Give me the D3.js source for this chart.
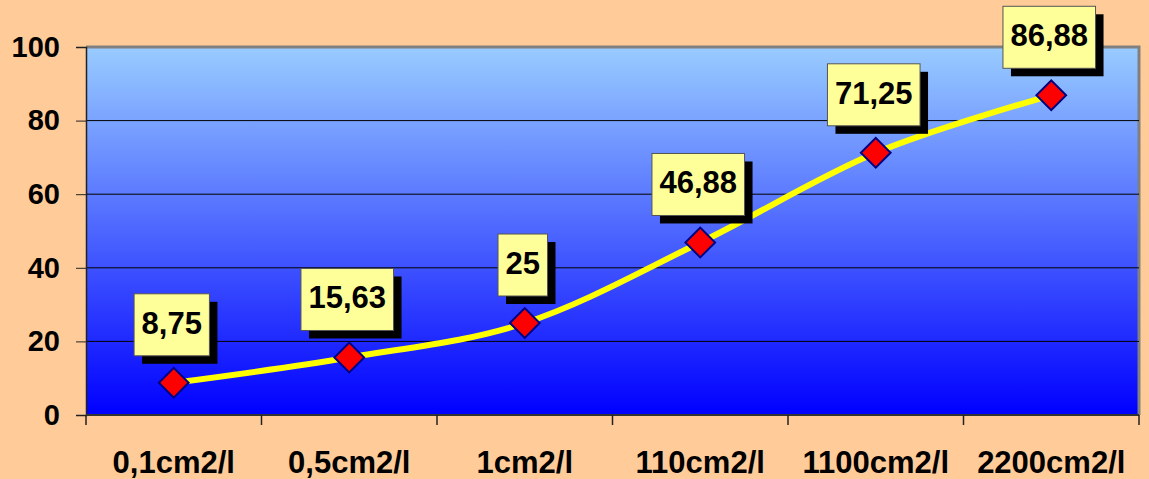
<!DOCTYPE html>
<html>
<head>
<meta charset="utf-8">
<script src="https://cdn.jsdelivr.net/npm/d3@7"></script>
<style>
  html, body { margin: 0; padding: 0; background: #FFCC99; }
  svg { display: block; }
  text { font-family: "Liberation Sans", Arial, sans-serif; font-weight: bold; fill: #000; }
</style>
</head>
<body>
<svg id="chart" width="1149" height="479"></svg>
<script>
// Categories and measured values
const categories = ["0,1cm2/l", "0,5cm2/l", "1cm2/l", "110cm2/l", "1100cm2/l", "2200cm2/l"];
const values = [8.75, 15.63, 25, 46.88, 71.25, 86.88];
const valueLabels = ["8,75", "15,63", "25", "46,88", "71,25", "86,88"];
const yTicks = [0, 20, 40, 60, 80, 100];

const W = 1149, H = 479;
const margin = { left: 86, right: 10, top: 47, bottom: 64 };
const plotW = W - margin.left - margin.right;
const plotH = H - margin.top - margin.bottom;

const svg = d3.select("#chart");

const x = d3.scaleBand().domain(categories).range([0, plotW]).paddingInner(0).paddingOuter(0);
const y = d3.scaleLinear().domain([0, 100]).range([plotH, 0]);

const defs = svg.append("defs");
const grad = defs.append("linearGradient")
  .attr("id", "plotFill").attr("x1", 0).attr("y1", 0).attr("x2", 0).attr("y2", 1);
grad.append("stop").attr("offset", "0%").attr("stop-color", "#99CCFF");
grad.append("stop").attr("offset", "100%").attr("stop-color", "#0000FF");

const g = svg.append("g").attr("transform", `translate(${margin.left},${margin.top})`);

// Plot area with gradient and grey frame
g.append("rect")
  .attr("x", 0).attr("y", 0).attr("width", plotW).attr("height", plotH)
  .attr("fill", "url(#plotFill)");
g.append("path")
  .attr("d", `M0,0H${plotW}V${plotH}`)
  .attr("fill", "none").attr("stroke", "#808080").attr("stroke-width", 3);

// Horizontal gridlines
g.append("g").selectAll("line")
  .data(yTicks.filter(t => t > 0 && t < 100))
  .join("line")
  .attr("x1", 0).attr("x2", plotW)
  .attr("y1", d => y(d)).attr("y2", d => y(d))
  .attr("stroke", "#000").attr("stroke-width", 1);

// Y axis
const yAxis = g.append("g")
  .call(d3.axisLeft(y).tickValues(yTicks).tickSize(10).tickPadding(16).tickFormat(d3.format("d")));
yAxis.select(".domain").attr("stroke", "#222").attr("stroke-width", 1.5);
yAxis.selectAll(".tick line").attr("stroke", "#222");
yAxis.selectAll("text").style("font-size", "29px").attr("font-weight", "bold").attr("fill", "#000");

// X axis: ticks on category boundaries, labels centred in bands
const xAxis = g.append("g").attr("transform", `translate(0,${plotH})`);
xAxis.append("line")
  .attr("x1", 0).attr("x2", plotW).attr("y1", 0).attr("y2", 0)
  .attr("stroke", "#333").attr("stroke-width", 2);
const bounds = categories.map(c => x(c)).concat([plotW]);
xAxis.selectAll("line.tick")
  .data(bounds)
  .join("line").attr("class", "tick")
  .attr("x1", d => d).attr("x2", d => d).attr("y1", 0).attr("y2", 10)
  .attr("stroke", "#222").attr("stroke-width", 1.5);
xAxis.selectAll("text")
  .data(categories)
  .join("text")
  .attr("x", d => x(d) + x.bandwidth() / 2)
  .attr("y", 58)
  .attr("text-anchor", "middle")
  .style("font-size", "31px")
  .text(d => d);

// Smoothed yellow line
const pts = categories.map((c, i) => [x(c) + x.bandwidth() / 2, y(values[i])]);
g.append("path")
  .attr("d", d3.line().curve(d3.curveCardinal.tension(0))(pts))
  .attr("fill", "none").attr("stroke", "#FFFF00").attr("stroke-width", 6)
  .attr("stroke-linejoin", "round");

// Diamond markers
const diamond = d3.symbol().type(d3.symbolSquare).size(21 * 21);
g.append("g").selectAll("path")
  .data(pts)
  .join("path")
  .attr("d", diamond)
  .attr("transform", d => `translate(${d[0]},${d[1]}) rotate(45)`)
  .attr("fill", "#FF0000").attr("stroke", "#000080").attr("stroke-width", 2);

// Value labels in shadowed boxes
const labels = g.append("g").selectAll("g")
  .data(pts.map((p, i) => ({ p, t: valueLabels[i] })))
  .join("g");
labels.each(function (d) {
  const sel = d3.select(this);
  const txt = sel.append("text")
    .attr("text-anchor", "middle")
    .style("font-size", "31px")
    .text(d.t);
  const tw = txt.node().getComputedTextLength();
  const bw = tw + 15, bh = 62;
  const bx = d.p[0] - 2 - bw / 2;
  const by = d.p[1] - 27 - bh;
  sel.insert("rect", "text")
    .attr("x", bx + 8).attr("y", by + 8).attr("width", bw).attr("height", bh)
    .attr("fill", "#000");
  sel.insert("rect", "text")
    .attr("x", bx).attr("y", by).attr("width", bw).attr("height", bh)
    .attr("fill", "#FFFF99").attr("stroke", "#555").attr("stroke-width", 1);
  txt.attr("x", bx + bw / 2).attr("y", by + bh - 22);
});
</script>
</body>
</html>
